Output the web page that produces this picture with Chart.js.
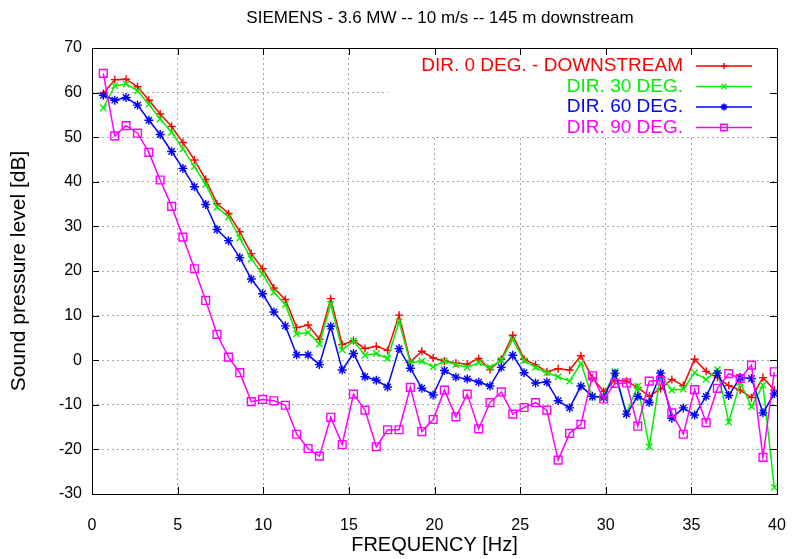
<!DOCTYPE html>
<html>
<head>
<meta charset="utf-8">
<script src="https://cdn.jsdelivr.net/npm/chart.js@4/dist/chart.umd.min.js"></script>
<style>
  html, body { margin: 0; padding: 0; background: #fff; }
  #wrap { width: 793px; height: 559px; }
</style>
</head>
<body>
<div id="wrap"><canvas id="c" width="793" height="559"></canvas></div>
<script>
'use strict';

// Sound pressure spectra, 145 m downstream of a Siemens 3.6 MW turbine,
// one series per measuring direction (gnuplot-style look).

const FREQ_HZ = [0.66, 1.33, 1.99, 2.66, 3.32, 3.98, 4.65, 5.31, 5.98, 6.64,
                 7.30, 7.97, 8.63, 9.30, 9.96, 10.62, 11.29, 11.95, 12.62, 13.28,
                 13.94, 14.61, 15.27, 15.94, 16.60, 17.26, 17.93, 18.59, 19.26, 19.92,
                 20.58, 21.25, 21.91, 22.58, 23.24, 23.90, 24.57, 25.23, 25.90, 26.56,
                 27.22, 27.89, 28.55, 29.22, 29.88, 30.54, 31.21, 31.87, 32.54, 33.20,
                 33.86, 34.53, 35.19, 35.86, 36.52, 37.18, 37.85, 38.51, 39.18, 39.84];

const SPL_DIR0  = [59.8, 62.9, 63.0, 61.3, 58.3, 55.2, 52.4, 48.8, 44.9, 40.5,
                   35.1, 32.9, 28.8, 23.9, 20.5, 16.2, 13.6, 7.3, 7.9, 4.7,
                   13.8, 3.5, 4.4, 2.6, 3.1, 2.2, 10.1, -0.4, 2.0, 0.5,
                   -0.2, -0.6, -0.9, 0.4, -2.1, 0.2, 5.6, 0.2, -1.0, -2.6,
                   -1.9, -2.2, 1.0, -4.0, -7.0, -4.5, -4.7, -6.1, -8.1, -6.4,
                   -4.3, -5.7, 0.2, -2.5, -3.9, -5.7, -6.7, -8.4, -3.9, -6.7];

const SPL_DIR30 = [56.6, 61.5, 61.9, 60.4, 57.4, 54.1, 51.1, 47.4, 43.4, 39.4,
                   34.3, 32.1, 27.4, 22.7, 19.3, 15.2, 12.5, 5.9, 6.2, 3.6,
                   12.6, 2.3, 4.3, 1.1, 1.5, 0.4, 8.6, -0.6, -0.2, -1.5,
                   -0.2, -1.0, -1.6, -0.6, -1.6, 0.0, 4.6, -0.1, -1.6, -2.8,
                   -3.7, -4.7, -0.7, -8.4, -8.0, -2.6, -11.9, -5.8, -19.4, -3.3,
                   -6.7, -6.5, -2.8, -4.3, -2.1, -13.9, -5.0, -10.4, -5.6, -28.5];

const SPL_DIR60 = [59.4, 58.3, 58.9, 57.2, 53.8, 50.6, 46.8, 43.0, 38.9, 34.9,
                   29.3, 26.8, 23.0, 18.2, 14.9, 10.8, 7.7, 1.2, 1.2, -1.0,
                   7.6, -2.2, 1.5, -3.7, -4.5, -6.0, 2.6, -1.8, -6.3, -7.8,
                   -2.3, -3.8, -4.2, -4.9, -5.8, -1.6, 1.1, -2.8, -5.1, -4.9,
                   -9.1, -10.7, -5.8, -8.1, -8.4, -2.9, -12.1, -8.1, -9.5, -2.9,
                   -13.0, -10.7, -12.3, -8.1, -2.9, -7.9, -3.9, -4.1, -11.8, -7.5];

const SPL_DIR90 = [64.3, 50.3, 52.6, 50.9, 46.6, 40.4, 34.5, 27.6, 20.5, 13.4,
                   5.8, 0.7, -2.8, -9.3, -8.8, -9.1, -10.1, -16.6, -19.8, -21.5,
                   -12.8, -18.9, -7.6, -11.2, -19.4, -15.6, -15.6, -6.1, -16.0, -13.3,
                   -6.7, -12.7, -7.6, -15.4, -9.5, -7.1, -12.1, -10.6, -9.5, -11.2,
                   -22.4, -16.4, -14.4, -3.5, -8.7, -5.2, -5.1, -14.8, -4.7, -4.5,
                   -11.8, -16.6, -6.6, -14.0, -6.3, -3.0, -4.1, -1.1, -21.8, -2.6];

const SERIES_LABELS = ['DIR. 0 DEG. - DOWNSTREAM', 'DIR. 30 DEG.', 'DIR. 60 DEG.', 'DIR. 90 DEG.'];
const SERIES_VALUES = [SPL_DIR0, SPL_DIR30, SPL_DIR60, SPL_DIR90];
const SERIES_COLORS = ['#ff0000', '#00f000', '#0000ff', '#ff00ff'];
const SERIES_POINTS = ['cross', 'crossRot', 'star', 'rect'];
const SERIES_RADII  = [4, 4.5, 4.5, 5.5];

const TITLE = 'SIEMENS - 3.6 MW -- 10 m/s -- 145 m downstream';
const FONT = '"Liberation Sans", Arial, Helvetica, sans-serif';

// ── Plugins: title, legend box, inward ticks + frame ─────────────────────
const topTitle = {
  id: 'topTitle',
  afterDraw(chart) {
    const {ctx} = chart;
    ctx.save();
    ctx.fillStyle = '#000';
    ctx.font = '17px ' + FONT;
    ctx.textAlign = 'center';
    ctx.textBaseline = 'middle';
    ctx.fillText(TITLE, 440, 18);
    ctx.restore();
  },
};

const keyBox = {
  id: 'keyBox',
  afterDatasetsDraw(chart) {
    const {ctx, chartArea} = chart;
    ctx.save();
    ctx.fillStyle = '#fff';
    ctx.fillRect(388, chartArea.top + 1, chartArea.right - 389, 88);
    ctx.font = '19px ' + FONT;
    ctx.textAlign = 'right';
    ctx.textBaseline = 'middle';
    SERIES_LABELS.forEach((label, i) => {
      const y = 66 + i * 20.5;
      const col = SERIES_COLORS[i];
      ctx.fillStyle = col;
      ctx.fillText(label, 683, y);
      ctx.strokeStyle = col;
      ctx.lineWidth = 1.5;
      ctx.beginPath();
      ctx.moveTo(696, y);
      ctx.lineTo(752, y);
      ctx.stroke();
      ctx.fillStyle = 'rgba(0,0,0,0)';
      ctx.strokeStyle = col;
      Chart.helpers.drawPoint(ctx, {pointStyle: SERIES_POINTS[i], radius: SERIES_RADII[i] - 1,
                                    rotation: 0, borderWidth: 1.5}, 724, y);
    });
    ctx.restore();
  },
};

const frameTicks = {
  id: 'frameTicks',
  afterDraw(chart) {
    const {ctx, chartArea: a, scales} = chart;
    const len = 7;
    ctx.save();
    ctx.strokeStyle = '#000';
    ctx.lineWidth = 1;
    ctx.beginPath();
    for (const t of scales.x.ticks) {
      const px = Math.round(scales.x.getPixelForValue(t.value)) + 0.5;
      ctx.moveTo(px, a.bottom); ctx.lineTo(px, a.bottom - len);
      ctx.moveTo(px, a.top);    ctx.lineTo(px, a.top + len);
    }
    for (const t of scales.y.ticks) {
      const py = Math.round(scales.y.getPixelForValue(t.value)) + 0.5;
      ctx.moveTo(a.left, py);  ctx.lineTo(a.left + len, py);
      ctx.moveTo(a.right, py); ctx.lineTo(a.right - len, py);
    }
    ctx.stroke();
    ctx.strokeRect(Math.round(a.left) + 0.5, Math.round(a.top) + 0.5,
                   Math.round(a.right - a.left), Math.round(a.bottom - a.top));
    ctx.restore();
  },
};

// ── Chart ────────────────────────────────────────────────────────────────
const datasets = SERIES_VALUES.map((vals, i) => ({
  label: SERIES_LABELS[i],
  data: vals.map((v, k) => ({x: FREQ_HZ[k], y: v})),
  borderColor: SERIES_COLORS[i],
  backgroundColor: 'rgba(0,0,0,0)',
  borderWidth: 1.5,
  pointStyle: SERIES_POINTS[i],
  pointRadius: SERIES_RADII[i],
  pointBorderWidth: 1.4,
  pointBorderColor: SERIES_COLORS[i],
  pointBackgroundColor: 'rgba(0,0,0,0)',
  tension: 0,
  order: 4 - i,
}));

const gridOpts = {color: '#a8a8a8', lineWidth: 1, drawTicks: false};

new Chart(document.getElementById('c'), {
  type: 'line',
  data: {datasets},
  plugins: [topTitle, keyBox, frameTicks],
  options: {
    responsive: false,
    animation: false,
    layout: {padding: {left: 0, right: 16, top: 48, bottom: 0}},
    plugins: {
      legend: {display: false},
      tooltip: {enabled: false},
      title: {display: false},
    },
    scales: {
      x: {
        type: 'linear', min: 0, max: 40,
        ticks: {stepSize: 5, color: '#000', padding: 22, font: {family: FONT, size: 16}},
        grid: gridOpts,
        border: {display: false, dash: [2, 3]},
        title: {display: true, text: 'FREQUENCY [Hz]', color: '#000',
                font: {family: FONT, size: 20, lineHeight: 1.2}, padding: {top: 0, bottom: 2}},
        afterFit: s => { s.height = 65; s.paddingLeft = 0; s.paddingRight = 0; },
      },
      y: {
        type: 'linear', min: -30, max: 70,
        ticks: {stepSize: 10, color: '#000', padding: 10, font: {family: FONT, size: 16}},
        grid: gridOpts,
        border: {display: false, dash: [2, 3]},
        title: {display: true, text: 'Sound pressure level [dB]', color: '#000',
                font: {family: FONT, size: 21, lineHeight: 1.2}, padding: {top: 7, bottom: 0}},
        afterFit: s => { s.width = 92; },
      },
    },
  },
});
</script>
</body>
</html>
